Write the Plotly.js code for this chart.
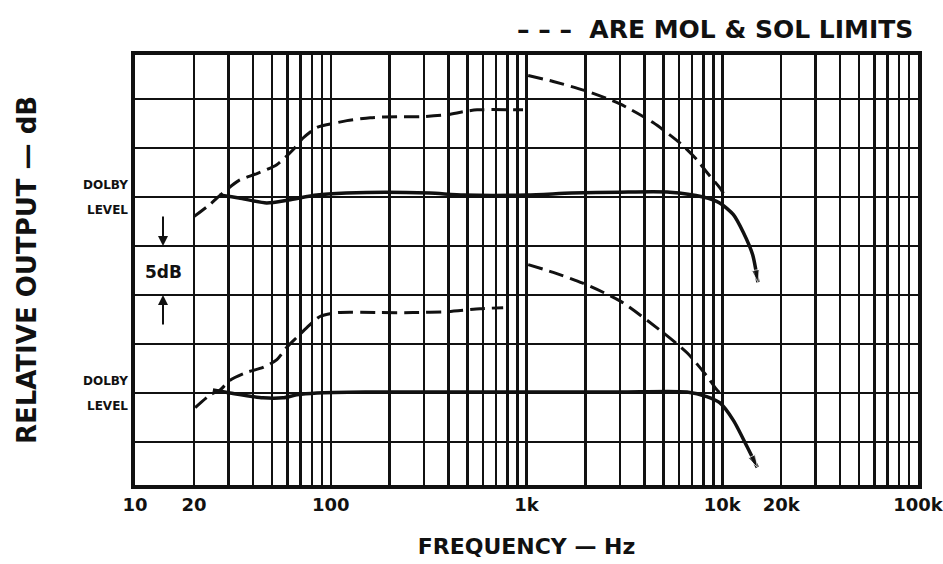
<!DOCTYPE html>
<html>
<head>
<meta charset="utf-8">
<script src="https://cdn.plot.ly/plotly-3.0.1.min.js"></script>
<style>html,body{margin:0;padding:0;background:#fff;}#chart{width:943px;height:564px;}</style>
</head>
<body>
<div id="chart"></div>
<script>
// ---- data (frequency in Hz, level in dB relative to upper Dolby level) ----
const upperSolidFreq = [27, 34, 47, 61, 85, 120, 190, 320, 480, 1000, 1700, 3000, 5400, 8000, 9700, 11400, 12800, 14300, 15200];
const upperSolidDb   = [0.2, -0.1, -0.6, -0.3, 0.2, 0.4, 0.5, 0.4, 0.2, 0.2, 0.4, 0.5, 0.5, 0.0, -0.6, -1.8, -3.6, -5.9, -8.7];

const upperLimitLowFreq = [20, 24, 28, 34, 42, 53, 64, 72, 85, 108, 121, 159, 218, 286, 393, 474, 559, 960];
const upperLimitLowDb   = [-2.0, -0.8, 0.4, 1.7, 2.4, 3.3, 4.8, 6.0, 7.1, 7.6, 7.8, 8.1, 8.2, 8.2, 8.4, 8.7, 8.9, 8.9];

const upperLimitHighFreq = [1020, 1370, 2040, 3000, 4430, 6090, 7430, 8360, 9750, 10400];
const upperLimitHighDb   = [12.4, 11.8, 10.8, 9.5, 7.6, 5.5, 3.8, 2.5, 0.9, 0.0];

const lowerSolidFreq = [25, 30.6, 45, 57, 67, 85, 150, 400, 1000, 3000, 6600, 8400, 9700, 11400, 13400, 15100];
const lowerSolidDb   = [-19.7, -20.0, -20.5, -20.5, -20.2, -20.0, -19.9, -19.9, -19.9, -19.9, -19.9, -20.4, -21.0, -22.8, -25.5, -27.6];

const lowerLimitLowFreq = [20.3, 24.2, 27.2, 30.6, 37.3, 45.1, 53.1, 59.8, 67.3, 75.7, 88.1, 108, 179, 263, 393, 579, 760];
const lowerLimitLowDb   = [-21.5, -20.2, -19.7, -18.7, -17.9, -17.4, -16.6, -15.3, -14.3, -13.3, -12.2, -11.8, -11.8, -11.8, -11.7, -11.4, -11.3];

const lowerLimitHighFreq = [1020, 1370, 1940, 3000, 4810, 6610, 8360, 9400, 10300];
const lowerLimitHighDb   = [-6.9, -7.7, -8.8, -10.6, -13.6, -15.9, -18.3, -19.7, -20.4];

// grid / tick labels
const gridFreqs = [10,20,30,40,50,60,70,80,90,100,200,300,400,500,600,700,800,900,
                   1000,2000,3000,4000,5000,6000,7000,8000,9000,
                   10000,20000,30000,40000,50000,60000,70000,80000,90000,100000];
const labelledFreqs = [10, 20, 100, 1000, 10000, 20000, 100000];
const labelledText  = ['10', '20', '100', '1k', '10k', '20k', '100k'];
const gridDb = [-25, -20, -15, -10, -5, 0, 5, 10];
const dolbyLevels = [0, -20];

// ---- build ----
const tickText = gridFreqs.map(f => {
  const i = labelledFreqs.indexOf(f);
  return i >= 0 ? labelledText[i] : '';
});

const INK = '#111';
function solid(x, y) {
  const sizes = x.map((_, i) => i === x.length - 1 ? 13 : 0);
  return {
    x: x, y: y, type: 'scatter', mode: 'lines+markers',
    line: {color: INK, width: 3.5, shape: 'spline', smoothing: 0.7},
    marker: {symbol: 'arrow', angleref: 'previous', size: sizes, color: INK},
    hoverinfo: 'skip', showlegend: false
  };
}
function dashed(x, y) {
  return {
    x: x, y: y, type: 'scatter', mode: 'lines',
    line: {color: INK, width: 3, dash: '15px,7px', shape: 'spline', smoothing: 0.7},
    hoverinfo: 'skip', showlegend: false
  };
}

const data = [
  solid(upperSolidFreq, upperSolidDb),
  dashed(upperLimitLowFreq, upperLimitLowDb),
  dashed(upperLimitHighFreq, upperLimitHighDb),
  solid(lowerSolidFreq, lowerSolidDb),
  dashed(lowerLimitLowFreq, lowerLimitLowDb),
  dashed(lowerLimitHighFreq, lowerLimitHighDb)
];

const FONT = 'DejaVu Sans, Liberation Sans, sans-serif';
const annotations = [];
dolbyLevels.forEach(lv => {
  annotations.push({xref: 'paper', yref: 'y', x: 0, y: lv, xanchor: 'right', yanchor: 'middle',
    xshift: -5, yshift: 12, text: '<b>DOLBY</b>', showarrow: false, font: {family: FONT, size: 12, color: INK}});
  annotations.push({xref: 'paper', yref: 'y', x: 0, y: lv, xanchor: 'right', yanchor: 'middle',
    xshift: -5, yshift: -13, text: '<b>LEVEL</b>', showarrow: false, font: {family: FONT, size: 12, color: INK}});
});
// 5 dB indicator
annotations.push({x: Math.log10(13.9), y: -5, xref: 'x', yref: 'y', text: ' ', showarrow: true,
  arrowhead: 2, arrowsize: 1, arrowwidth: 2, arrowcolor: INK, ax: 0, ay: -38});
annotations.push({x: Math.log10(13.9), y: -10, xref: 'x', yref: 'y', text: ' ', showarrow: true,
  arrowhead: 2, arrowsize: 1, arrowwidth: 2, arrowcolor: INK, ax: 0, ay: 38});
annotations.push({x: Math.log10(13.9), y: -7.7, xref: 'x', yref: 'y', text: '<b>5dB</b>', showarrow: false,
  bgcolor: '#fff', font: {family: FONT, size: 17, color: INK}});
// header note
annotations.push({xref: 'paper', yref: 'paper', x: 1, y: 1, xanchor: 'right', yanchor: 'bottom', yshift: 9,
  xshift: -3, text: '<b>– – –  ARE MOL & SOL LIMITS</b>', showarrow: false,
  font: {family: FONT, size: 25, color: INK}});

const layout = {
  width: 943, height: 564,
  margin: {l: 135, r: 25, t: 55, b: 79},
  paper_bgcolor: '#fff', plot_bgcolor: '#fff',
  font: {family: FONT, color: INK},
  xaxis: {
    type: 'log', range: [1, 5],
    tickvals: gridFreqs, ticktext: tickText, ticks: '',
    ticklabeloverflow: 'allow',
    tickfont: {family: FONT, size: 18, color: INK, weight: 'bold'},
    showgrid: true, gridcolor: INK, gridwidth: 2.5,
    showline: true, mirror: true, linecolor: INK, linewidth: 4,
    zeroline: false, fixedrange: true,
    title: {text: '<b>FREQUENCY — Hz</b>', font: {family: FONT, size: 22, color: INK}, standoff: 26}
  },
  yaxis: {
    range: [-29.4, 14.5],
    tickvals: gridDb, showticklabels: false, ticks: '',
    showgrid: true, gridcolor: INK, gridwidth: 2.5,
    showline: true, mirror: true, linecolor: INK, linewidth: 4,
    zeroline: false, fixedrange: true,
    title: {text: 'RELATIVE OUTPUT — dB', font: {family: FONT, size: 26, color: INK, weight: 'bold'}, standoff: 88}
  },
  annotations: annotations
};

Plotly.newPlot('chart', data, layout, {staticPlot: true, displayModeBar: false});
</script>
</body>
</html>
